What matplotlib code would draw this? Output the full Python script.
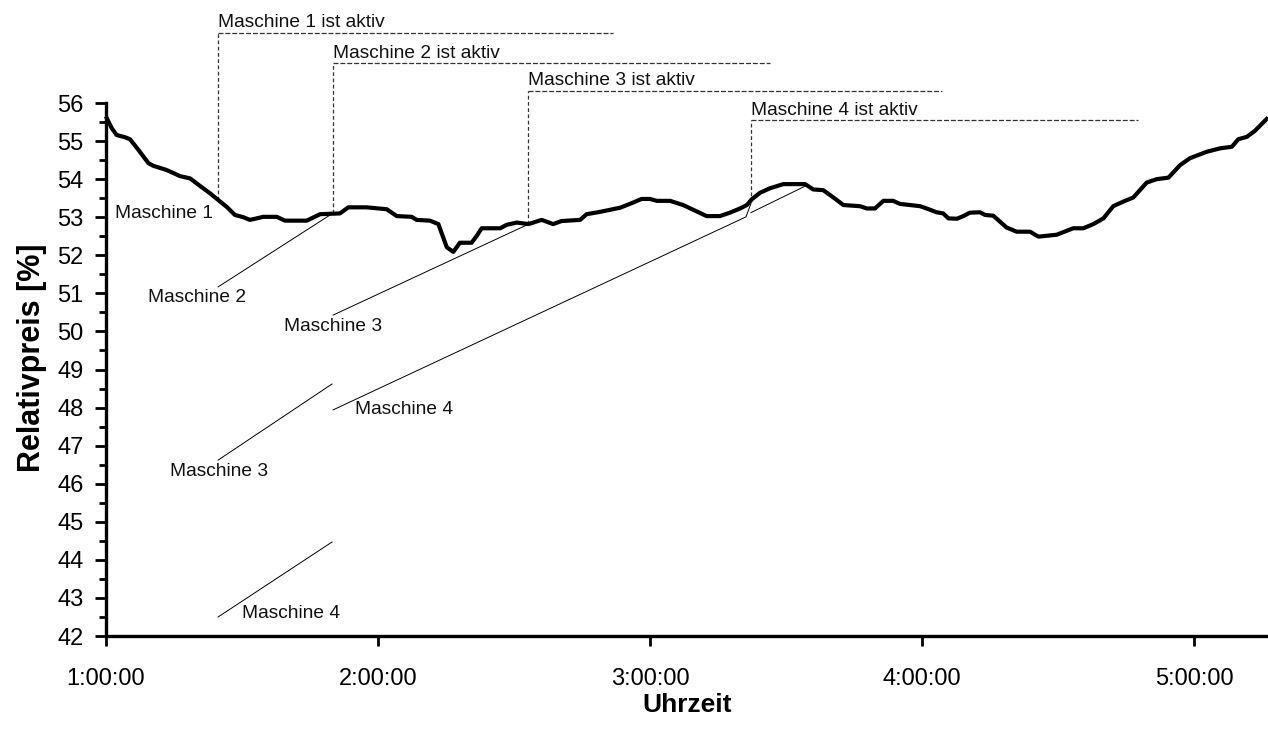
import numpy as np
from matplotlib import pyplot as plt
from matplotlib.ticker import MultipleLocator, FuncFormatter

plt.rcParams['font.family'] = ['Liberation Sans', 'DejaVu Sans']

# Relativpreis ueber die Zeit (Stunden)
time_h = [1.003, 1.021, 1.039, 1.070, 1.088, 1.119, 1.156, 1.174, 1.223, 1.272,
          1.309, 1.346, 1.382, 1.413, 1.444, 1.474, 1.505, 1.529, 1.554, 1.578,
          1.628, 1.658, 1.738, 1.787, 1.860, 1.891, 1.958, 2.032, 2.069, 2.124,
          2.142, 2.191, 2.222, 2.234, 2.253, 2.277, 2.301, 2.344, 2.363, 2.381,
          2.449, 2.473, 2.510, 2.553, 2.602, 2.644, 2.675, 2.743, 2.767, 2.816,
          2.890, 2.926, 2.969, 3.000, 3.025, 3.074, 3.122, 3.208, 3.257, 3.294,
          3.331, 3.356, 3.374, 3.404, 3.441, 3.490, 3.570, 3.600, 3.637, 3.674,
          3.711, 3.772, 3.797, 3.827, 3.858, 3.894, 3.919, 3.993, 4.017, 4.054,
          4.078, 4.097, 4.128, 4.152, 4.176, 4.213, 4.232, 4.262, 4.311, 4.348,
          4.397, 4.428, 4.495, 4.556, 4.593, 4.630, 4.667, 4.703, 4.740, 4.777,
          4.826, 4.863, 4.906, 4.949, 4.985, 5.047, 5.096, 5.139, 5.163, 5.194,
          5.224, 5.267]
price = [55.60, 55.34, 55.16, 55.10, 55.05, 54.77, 54.42, 54.35, 54.24, 54.08,
         54.02, 53.82, 53.63, 53.45, 53.27, 53.06, 53.00, 52.93, 52.97, 53.01,
         53.01, 52.91, 52.91, 53.08, 53.10, 53.26, 53.26, 53.21, 53.03, 53.01,
         52.93, 52.91, 52.82, 52.58, 52.21, 52.09, 52.33, 52.33, 52.51, 52.71,
         52.71, 52.80, 52.86, 52.82, 52.93, 52.82, 52.90, 52.93, 53.08, 53.14,
         53.25, 53.35, 53.48, 53.48, 53.43, 53.43, 53.32, 53.03, 53.03, 53.12,
         53.23, 53.32, 53.47, 53.64, 53.76, 53.87, 53.87, 53.73, 53.71, 53.52,
         53.32, 53.29, 53.23, 53.23, 53.43, 53.43, 53.35, 53.29, 53.23, 53.13,
         53.10, 52.97, 52.96, 53.03, 53.12, 53.13, 53.06, 53.04, 52.73, 52.62,
         52.62, 52.49, 52.54, 52.71, 52.71, 52.82, 52.97, 53.29, 53.41, 53.52,
         53.91, 54.00, 54.04, 54.37, 54.55, 54.72, 54.81, 54.85, 55.05, 55.11,
         55.27, 55.58]

# "ist aktiv" Markierungen
aktiv_labels = ["Maschine 1 ist aktiv", "Maschine 2 ist aktiv",
                "Maschine 3 ist aktiv", "Maschine 4 ist aktiv"]
aktiv_x = [1.412, 1.835, 2.551, 3.371]
aktiv_base = [53.45, 53.10, 52.82, 53.40]
aktiv_top = [57.84, 57.05, 56.32, 55.55]
aktiv_end = [2.864, 3.441, 4.074, 4.794]

# Prognoselinien der Maschinen
prog_lines = [
    ([1.412, 1.835], [51.17, 53.11]),
    ([1.412, 1.831], [46.62, 48.62]),
    ([1.412, 1.831], [42.50, 44.47]),
    ([1.835, 2.548], [50.43, 52.80]),
    ([1.835, 3.353, 3.371], [47.94, 53.01, 53.36]),
    ([3.371, 3.574], [53.12, 53.83]),
]

# Beschriftungen der Maschinen
masch_labels = ["Maschine 1", "Maschine 2", "Maschine 3", "Maschine 3",
                "Maschine 4", "Maschine 4"]
masch_x = [1.033, 1.154, 1.654, 1.235, 1.915, 1.500]
masch_y = [53.11, 50.90, 50.12, 46.31, 47.96, 42.60]

fig = plt.figure(figsize=(12.68, 7.40), dpi=100)
ax = fig.add_axes([0.0836, 0.1405, 0.9164, 0.7203])

ax.plot(time_h, price, color='black', lw=3.0, zorder=3, clip_on=False)

for xs, ys in prog_lines:
    ax.plot(xs, ys, color='black', lw=0.7, zorder=2)

for lab, x, yb, yt, xe in zip(aktiv_labels, aktiv_x, aktiv_base, aktiv_top, aktiv_end):
    ax.plot([x, x], [yb, yt], color='#333333', lw=0.9, ls=(0, (3, 2)),
            clip_on=False, zorder=1)
    ax.plot([x, xe], [yt, yt], color='#333333', lw=0.9, ls=(0, (4, 1.5)),
            clip_on=False, zorder=1)
    ax.text(x, yt + 0.04, lab, fontsize=13.8, ha='left', va='bottom',
            color='#111111', clip_on=False)

for lab, x, y in zip(masch_labels, masch_x, masch_y):
    ax.text(x, y, lab, fontsize=13.8, ha='left', va='center', color='#111111')

ax.set_xlim(1.0, 5.272)
ax.set_ylim(42, 56)
ax.xaxis.set_major_locator(MultipleLocator(1))
ax.xaxis.set_major_formatter(FuncFormatter(lambda v, p: f"{int(round(v))}:00:00"))
ax.yaxis.set_major_locator(MultipleLocator(1))
ax.yaxis.set_minor_locator(MultipleLocator(0.5))

ax.spines['top'].set_visible(False)
ax.spines['right'].set_visible(False)
ax.spines['left'].set_linewidth(2.4)
ax.spines['bottom'].set_linewidth(2.4)

ax.tick_params(axis='y', which='major', length=8, width=2, pad=8, labelsize=17)
ax.tick_params(axis='y', which='minor', length=5, width=2)
ax.tick_params(axis='x', which='major', length=7, width=2, pad=16, labelsize=17)

ax.set_xlabel("Uhrzeit", fontsize=19, fontweight='bold', labelpad=2)
ax.set_ylabel("Relativpreis [%]", fontsize=22, fontweight='bold')
ax.yaxis.set_label_coords(-0.051, 0.523)

plt.savefig("out.png", dpi=100)
